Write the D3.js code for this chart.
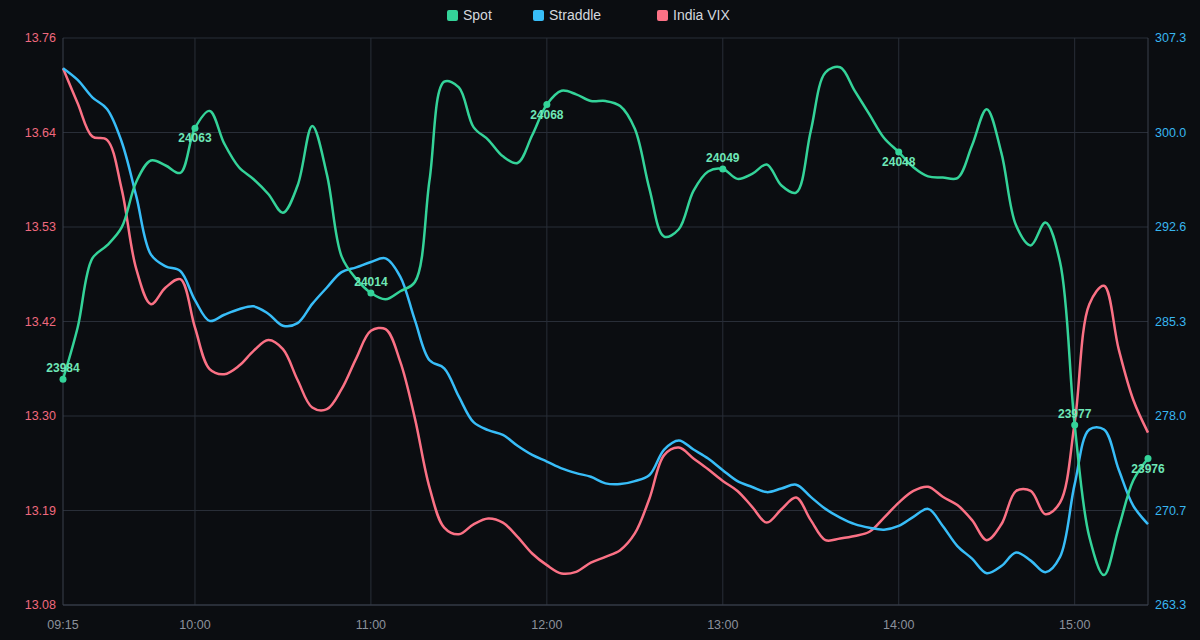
<!DOCTYPE html>
<html>
<head>
<meta charset="utf-8">
<style>
  html, body { margin: 0; padding: 0; background: #0b0d11; }
  svg { display: block; }
</style>
</head>
<body>
<script src="https://d3js.org/d3.v7.min.js"></script>
<script>
var width = 1200, height = 640;
var margin = { top: 38, right: 52, bottom: 35, left: 63 };

// 5-minute session grid, 09:15 .. 15:25
var startTime = new Date(2024, 0, 1, 9, 15), endTime = new Date(2024, 0, 1, 15, 25);

var spot = [23990.1, 24004.8, 24024.4, 24028.1, 24033.2, 24046.2, 24052.2, 24050.8, 24048.7, 24061.4,
    24066.3, 24057.0, 24050.3, 24046.9, 24042.7, 24037.4, 24045.1, 24062.0, 24048.2, 24025.0,
    24018.6, 24014.6, 24012.8, 24015.1, 24017.7, 24046.7, 24074.6, 24073.0, 24061.7, 24058.1,
    24053.4, 24051.5, 24059.4, 24068.1, 24072.0, 24071.0, 24069.1, 24069.1, 24067.7, 24061.2,
    24044.1, 24030.6, 24032.7, 24043.6, 24049.1, 24049.8, 24047.0, 24048.4, 24051.1, 24045.1,
    24043.1, 24060.6, 24077.2, 24078.7, 24072.0, 24065.3, 24058.6, 24054.6, 24050.3, 24047.7,
    24047.4, 24047.2, 24056.5, 24066.8, 24054.4, 24033.8, 24028.1, 24034.6, 24023.4, 23977.1,
    23945.3, 23934.5, 23947.9, 23961.4, 23967.6];

var straddle = [304.95, 304.04, 302.69, 301.79, 299.25, 295.01, 290.50, 289.59, 289.23, 286.97,
    285.36, 285.84, 286.26, 286.49, 285.92, 284.99, 285.19, 286.68, 287.95, 289.14,
    289.51, 289.93, 290.21, 288.80, 285.42, 282.31, 281.69, 279.49, 277.51, 276.89,
    276.52, 275.68, 274.97, 274.46, 273.93, 273.56, 273.28, 272.77, 272.71, 272.94,
    273.42, 275.39, 276.10, 275.39, 274.69, 273.79, 272.94, 272.49, 272.09, 272.37,
    272.66, 271.72, 270.79, 270.12, 269.61, 269.33, 269.18, 269.47, 270.17, 270.79,
    269.47, 267.91, 266.93, 265.80, 266.36, 267.41, 266.78, 265.88, 267.07, 272.71,
    276.95, 276.95, 273.84, 271.02, 269.61];

var vix = [13.725, 13.683, 13.643, 13.639, 13.580, 13.484, 13.442, 13.462, 13.472, 13.414,
    13.364, 13.358, 13.368, 13.386, 13.399, 13.388, 13.351, 13.318, 13.316, 13.340,
    13.377, 13.410, 13.412, 13.373, 13.305, 13.222, 13.174, 13.166, 13.178, 13.185,
    13.180, 13.163, 13.143, 13.129, 13.119, 13.121, 13.132, 13.139, 13.147, 13.167,
    13.209, 13.261, 13.270, 13.257, 13.244, 13.230, 13.218, 13.199, 13.180, 13.196,
    13.210, 13.183, 13.159, 13.161, 13.164, 13.169, 13.186, 13.204, 13.218, 13.223,
    13.211, 13.201, 13.183, 13.159, 13.178, 13.218, 13.218, 13.190, 13.204, 13.300,
    13.442, 13.464, 13.388, 13.327, 13.288];

var spotMarkTimes = ["09:15", "10:00", "11:00", "12:00", "13:00", "14:00", "15:00", "15:25"];
var spotMarkLabels = ["23984", "24063", "24014", "24068", "24049", "24048", "23977", "23976"];

var xTickLabels = ["09:15", "10:00", "11:00", "12:00", "13:00", "14:00", "15:00"];
var vixDomain = [13.0812, 13.7612];
var vixTickLabels = ["13.08", "13.19", "13.30", "13.42", "13.53", "13.64", "13.76"];
var straddleDomain = [263.34, 307.29];
var straddleTickLabels = ["263.3", "270.7", "278.0", "285.3", "292.6", "300.0", "307.3"];
var spotDomain = [23926, 24087];

var seriesNames = ["Spot", "Straddle", "India VIX"];
var colors = { "Spot": "#34d399", "Straddle": "#38bdf8", "India VIX": "#fb7185" };

var times = d3.timeMinute.every(5).range(startTime, new Date(endTime.getTime() + 1));
var parseHM = function (s) {
    var p = s.split(":");
    return new Date(2024, 0, 1, +p[0], +p[1]);
};

var svg = d3.select('body').append('svg').attr('width', width).attr('height', height);
svg.append('rect').attr('width', width).attr('height', height).attr('fill', '#0b0d11');

var x = d3.scaleTime().domain([startTime, endTime]).range([margin.left, width - margin.right]);
var yVix = d3.scaleLinear().domain(vixDomain).range([height - margin.bottom, margin.top]);
var yStr = d3.scaleLinear().domain(straddleDomain).range([height - margin.bottom, margin.top]);
var ySpot = d3.scaleLinear().domain(spotDomain).range([height - margin.bottom, margin.top]);

var x0 = margin.left, x1 = width - margin.right, yb = height - margin.bottom, yt = margin.top;
var gridColor = '#292e38', axisColor = '#3a404c';

var tickVals = d3.range(7).map(function (i) { return i / 6; });

// horizontal grid
svg.append('g').selectAll('line').data(tickVals).join('line')
    .attr('x1', x0).attr('x2', x1)
    .attr('y1', function (f) { return yVix(vixDomain[0] + f * (vixDomain[1] - vixDomain[0])); })
    .attr('y2', function (f) { return yVix(vixDomain[0] + f * (vixDomain[1] - vixDomain[0])); })
    .attr('stroke', gridColor).attr('stroke-width', 1);

// vertical grid
svg.append('g').selectAll('line').data(xTickLabels.slice(1)).join('line')
    .attr('x1', function (d) { return x(parseHM(d)); })
    .attr('x2', function (d) { return x(parseHM(d)); })
    .attr('y1', yt).attr('y2', yb)
    .attr('stroke', gridColor).attr('stroke-width', 1);

// axis lines
svg.append('line').attr('x1', x0).attr('x2', x0).attr('y1', yt).attr('y2', yb).attr('stroke', axisColor);
svg.append('line').attr('x1', x1).attr('x2', x1).attr('y1', yt).attr('y2', yb).attr('stroke', axisColor);
svg.append('line').attr('x1', x0).attr('x2', x1).attr('y1', yb).attr('y2', yb).attr('stroke', axisColor);

var font = "'Liberation Sans', Arial, sans-serif";

// left tick labels (India VIX)
svg.append('g').selectAll('text').data(tickVals).join('text')
    .attr('x', x0 - 7)
    .attr('y', function (f) { return yVix(vixDomain[0] + f * (vixDomain[1] - vixDomain[0])); })
    .attr('dy', '0.35em').attr('text-anchor', 'end')
    .attr('fill', '#f0697e').style('font', '12.5px ' + font)
    .text(function (f, i) { return vixTickLabels[i]; });

// right tick labels (Straddle)
svg.append('g').selectAll('text').data(tickVals).join('text')
    .attr('x', x1 + 7)
    .attr('y', function (f) { return yStr(straddleDomain[0] + f * (straddleDomain[1] - straddleDomain[0])); })
    .attr('dy', '0.35em').attr('text-anchor', 'start')
    .attr('fill', '#38b6f0').style('font', '12.5px ' + font)
    .text(function (f, i) { return straddleTickLabels[i]; });

// x tick labels
svg.append('g').selectAll('text').data(xTickLabels).join('text')
    .attr('x', function (d) { return x(parseHM(d)); })
    .attr('y', yb + 20).attr('dy', '0.35em').attr('text-anchor', 'middle')
    .attr('fill', '#8b919c').style('font', '12.5px ' + font)
    .text(function (d) { return d; });

// lines
var series = [
    { name: "India VIX", values: vix, y: yVix },
    { name: "Straddle", values: straddle, y: yStr },
    { name: "Spot", values: spot, y: ySpot }
];

series.forEach(function (s) {
    var line = d3.line()
        .x(function (d, i) { return x(times[i]); })
        .y(function (d) { return s.y(d); })
        .curve(d3.curveCatmullRom.alpha(0.5));
    svg.append('path')
        .datum(s.values)
        .attr('d', line)
        .attr('fill', 'none')
        .attr('stroke', colors[s.name])
        .attr('stroke-width', 2.5)
        .attr('stroke-linejoin', 'round');
});

// spot markers with labels
var marks = spotMarkTimes.map(function (t, i) {
    var tt = parseHM(t);
    var idx = d3.bisectLeft(times.map(function (d) { return +d; }), +tt);
    return { t: times[idx], v: spot[idx], label: spotMarkLabels[i], above: i % 2 === 0 };
});

var mg = svg.append('g');
mg.selectAll('circle').data(marks).join('circle')
    .attr('cx', function (d) { return x(d.t); })
    .attr('cy', function (d) { return ySpot(d.v); })
    .attr('r', 3.5)
    .attr('fill', colors["Spot"]);
mg.selectAll('text').data(marks).join('text')
    .attr('x', function (d) { return x(d.t); })
    .attr('y', function (d) { return ySpot(d.v) + (d.above ? -11 : 10); })
    .attr('dy', '0.35em').attr('text-anchor', 'middle')
    .attr('fill', '#6ee7b7')
    .style('font', 'bold 12px ' + font)
    .text(function (d) { return d.label; });

// legend
var legendX = [447, 533, 657];
var lg = svg.append('g').selectAll('g').data(seriesNames).join('g')
    .attr('transform', function (d, i) { return 'translate(' + legendX[i] + ',10)'; });
lg.append('rect').attr('width', 11).attr('height', 11).attr('rx', 2)
    .attr('fill', function (d) { return colors[d]; });
lg.append('text').attr('x', 16).attr('y', 5.5).attr('dy', '0.35em')
    .attr('fill', '#d4d7dd').style('font', '14px ' + font)
    .text(function (d) { return d; });
</script>
</body>
</html>
